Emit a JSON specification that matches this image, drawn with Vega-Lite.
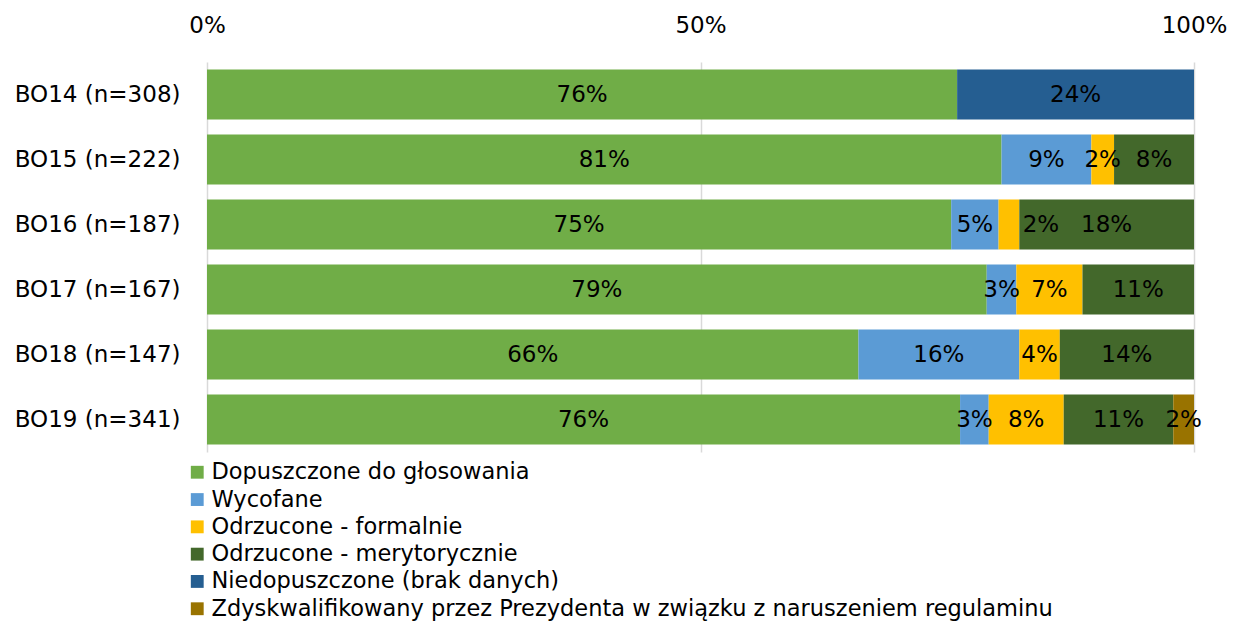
{
  "$schema": "https://vega.github.io/schema/vega-lite/v6.json",
  "autosize": {"type": "none"},
  "width": 987,
  "height": 390,
  "padding": {"left": 207, "top": 62, "right": 49, "bottom": 169},
  "background": "white",
  "config": {"font": "DejaVu Sans", "view": {"stroke": null}},
  "data": {"values": [
    {"edition": "BO14 (n=308)", "status": "Dopuszczone do głosowania", "ord": 1, "value": 0.760},
    {"edition": "BO14 (n=308)", "status": "Niedopuszczone (brak danych)", "ord": 5, "value": 0.240},
    {"edition": "BO15 (n=222)", "status": "Dopuszczone do głosowania", "ord": 1, "value": 0.805},
    {"edition": "BO15 (n=222)", "status": "Wycofane", "ord": 2, "value": 0.091},
    {"edition": "BO15 (n=222)", "status": "Odrzucone - formalnie", "ord": 3, "value": 0.023},
    {"edition": "BO15 (n=222)", "status": "Odrzucone - merytorycznie", "ord": 4, "value": 0.081},
    {"edition": "BO16 (n=187)", "status": "Dopuszczone do głosowania", "ord": 1, "value": 0.754},
    {"edition": "BO16 (n=187)", "status": "Wycofane", "ord": 2, "value": 0.048},
    {"edition": "BO16 (n=187)", "status": "Odrzucone - formalnie", "ord": 3, "value": 0.021},
    {"edition": "BO16 (n=187)", "status": "Odrzucone - merytorycznie", "ord": 4, "value": 0.177},
    {"edition": "BO17 (n=167)", "status": "Dopuszczone do głosowania", "ord": 1, "value": 0.790},
    {"edition": "BO17 (n=167)", "status": "Wycofane", "ord": 2, "value": 0.030},
    {"edition": "BO17 (n=167)", "status": "Odrzucone - formalnie", "ord": 3, "value": 0.067},
    {"edition": "BO17 (n=167)", "status": "Odrzucone - merytorycznie", "ord": 4, "value": 0.113},
    {"edition": "BO18 (n=147)", "status": "Dopuszczone do głosowania", "ord": 1, "value": 0.660},
    {"edition": "BO18 (n=147)", "status": "Wycofane", "ord": 2, "value": 0.163},
    {"edition": "BO18 (n=147)", "status": "Odrzucone - formalnie", "ord": 3, "value": 0.041},
    {"edition": "BO18 (n=147)", "status": "Odrzucone - merytorycznie", "ord": 4, "value": 0.136},
    {"edition": "BO19 (n=341)", "status": "Dopuszczone do głosowania", "ord": 1, "value": 0.763},
    {"edition": "BO19 (n=341)", "status": "Wycofane", "ord": 2, "value": 0.029},
    {"edition": "BO19 (n=341)", "status": "Odrzucone - formalnie", "ord": 3, "value": 0.076},
    {"edition": "BO19 (n=341)", "status": "Odrzucone - merytorycznie", "ord": 4, "value": 0.111},
    {"edition": "BO19 (n=341)", "status": "Zdyskwalifikowany przez Prezydenta w związku z naruszeniem regulaminu", "ord": 6, "value": 0.021}
  ]},
  "transform": [
    {"stack": "value", "groupby": ["edition"], "sort": [{"field": "ord", "order": "ascending"}], "as": ["v0", "v1"]},
    {"calculate": "(datum.v0 + datum.v1) / 2", "as": "mid"}
  ],
  "encoding": {
    "y": {
      "field": "edition", "type": "nominal", "sort": null,
      "scale": {"paddingInner": 0.23, "paddingOuter": 0.115},
      "axis": {"title": null, "ticks": false, "domain": false, "labelFontSize": 23, "labelColor": "#000000", "labelPadding": 27, "labelFont": "DejaVu Sans"}
    }
  },
  "layer": [
    {
      "mark": {"type": "bar"},
      "encoding": {
        "x": {
          "field": "v0", "type": "quantitative",
          "scale": {"domain": [0, 1], "nice": false},
          "axis": {"orient": "top", "title": null, "values": [0, 0.5, 1], "format": ".0%", "ticks": false, "domain": false, "grid": true, "gridColor": "#d9d9d9", "gridWidth": 1.5, "labelFontSize": 23, "labelColor": "#000000", "labelPadding": 25, "labelFlush": false, "labelFont": "DejaVu Sans"}
        },
        "x2": {"field": "v1"},
        "color": {
          "field": "status", "type": "nominal",
          "scale": {
            "domain": ["Dopuszczone do głosowania", "Wycofane", "Odrzucone - formalnie", "Odrzucone - merytorycznie", "Niedopuszczone (brak danych)", "Zdyskwalifikowany przez Prezydenta w związku z naruszeniem regulaminu"],
            "range": ["#70AD47", "#5B9BD5", "#FFC000", "#43682B", "#255E91", "#997300"]
          },
          "legend": {
            "orient": "none", "legendX": -21, "legendY": 399, "title": null,
            "symbolType": "square", "symbolSize": 165, "symbolStrokeWidth": 0, "symbolOpacity": 1,
            "labelFontSize": 22.5, "labelColor": "#000000", "labelOffset": 3, "rowPadding": 4.3, "labelLimit": 1000, "labelFont": "DejaVu Sans"
          }
        }
      }
    },
    {
      "transform": [{"filter": "!(datum.edition == 'BO16 (n=187)' && datum.ord == 3)"}],
      "mark": {"type": "text", "fontSize": 23, "color": "#000000", "align": "center", "baseline": "middle"},
      "encoding": {
        "x": {"field": "mid", "type": "quantitative"},
        "text": {"field": "value", "type": "quantitative", "format": ".0%"}
      }
    },
    {
      "transform": [{"filter": "datum.edition == 'BO16 (n=187)' && datum.ord == 3"}],
      "mark": {"type": "text", "fontSize": 23, "color": "#000000", "align": "center", "baseline": "middle", "dx": 32},
      "encoding": {
        "x": {"field": "mid", "type": "quantitative"},
        "text": {"field": "value", "type": "quantitative", "format": ".0%"}
      }
    }
  ]
}
